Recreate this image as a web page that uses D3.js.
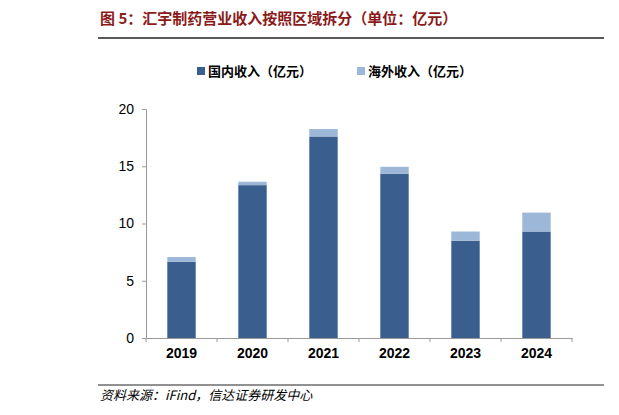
<!DOCTYPE html>
<html><head><meta charset="utf-8">
<script src="https://cdn.jsdelivr.net/npm/d3@7"></script>
<style>body{margin:0;background:#fff;font-family:"Liberation Sans","Noto Sans CJK SC",sans-serif}</style>
</head><body>
<svg id="chart" width="619" height="415"></svg>
<script>
const years = ['2019', '2020', '2021', '2022', '2023', '2024'];
const domestic = [6.65, 13.35, 17.6, 14.35, 8.5, 9.3];
const overseas = [0.42, 0.3, 0.65, 0.6, 0.8, 1.65];
const yTicks = [0, 5, 10, 15, 20];
const seriesNames = ['国内收入（亿元）', '海外收入（亿元）'];
const colors = ['#3A5F8F', '#9DB7D9'];

const svg = d3.select('#chart');
const m = {left: 146, right: 572, top: 109, bottom: 338};

svg.append('text').attr('x', 100).attr('y', 24)
  .attr('font-size', 15).attr('font-weight', 'bold').attr('fill', '#8B1A1A')
  .attr('font-family', '"Noto Sans CJK SC",sans-serif')
  .text('图 5：汇宇制药营业收入按照区域拆分（单位：亿元）');
svg.append('line').attr('x1', 98).attr('x2', 604).attr('y1', 38).attr('y2', 38)
  .attr('stroke', '#222').attr('stroke-width', 1.5);

const x = d3.scaleBand().domain(years).range([m.left, m.right]).paddingInner(0.6).paddingOuter(0.3);
const y = d3.scaleLinear().domain([0, 20]).range([m.bottom, m.top]);

const yAxis = svg.append('g').attr('transform', `translate(${m.left},0)`)
  .call(d3.axisLeft(y).tickValues(yTicks).tickSize(4).tickPadding(8));
const xAxis = svg.append('g').attr('transform', `translate(0,${m.bottom})`)
  .call(d3.axisBottom(x).tickSize(0).tickPadding(10));
// ticks between categories
const step = x.step();
svg.append('g').selectAll('line').data(d3.range(years.length + 1)).join('line')
  .attr('x1', i => m.left + i * (m.right - m.left) / years.length)
  .attr('x2', i => m.left + i * (m.right - m.left) / years.length)
  .attr('y1', m.bottom).attr('y2', m.bottom + 4).attr('stroke', '#999');
[yAxis, xAxis].forEach(a => {
  a.select('.domain').attr('stroke', '#999');
  a.selectAll('.tick line').attr('stroke', '#999');
  a.selectAll('text').attr('font-size', 14).attr('fill', '#000')
    .attr('font-family', '"Liberation Sans",sans-serif');
});
xAxis.selectAll('text').attr('font-weight', 'bold');

const bars = svg.append('g');
bars.selectAll('.dom').data(years).join('rect')
  .attr('x', d => x(d)).attr('width', x.bandwidth())
  .attr('y', (d, i) => y(domestic[i])).attr('height', (d, i) => y(0) - y(domestic[i]))
  .attr('fill', colors[0]);
bars.selectAll('.ovs').data(years).join('rect')
  .attr('x', d => x(d)).attr('width', x.bandwidth())
  .attr('y', (d, i) => y(domestic[i] + overseas[i])).attr('height', (d, i) => y(0) - y(overseas[i]))
  .attr('fill', colors[1]);

const lg = svg.append('g');
const lgX = [197, 357];
seriesNames.forEach((n, i) => {
  lg.append('rect').attr('x', lgX[i]).attr('y', 67).attr('width', 8).attr('height', 8).attr('fill', colors[i]);
  lg.append('text').attr('x', lgX[i] + 11).attr('y', 76).attr('font-size', 13)
    .attr('font-family', '"Noto Sans CJK SC",sans-serif').attr('font-weight', 'bold').text(n);
});

svg.append('line').attr('x1', 98).attr('x2', 604).attr('y1', 385).attr('y2', 385)
  .attr('stroke', '#222').attr('stroke-width', 1);
svg.append('text').attr('x', 100).attr('y', 400).attr('font-size', 13).attr('font-style', 'italic')
  .attr('font-family', '"Noto Sans CJK SC",sans-serif')
  .text('资料来源：iFind，信达证券研发中心');
</script>
</body></html>
